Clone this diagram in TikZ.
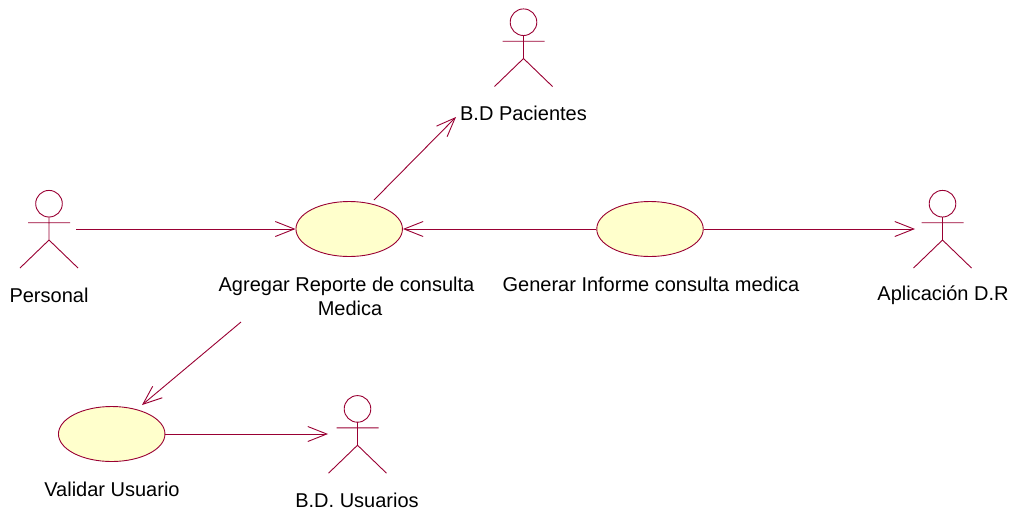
\documentclass[tikz,border=0pt]{standalone}
\usepackage{fontspec}
\setmainfont{Liberation Sans}
\usetikzlibrary{arrows.meta,shapes.geometric}
\definecolor{umlline}{HTML}{990033}
\definecolor{umlfill}{HTML}{FFFFCC}
\tikzset{
  umlcase/.style={draw=umlline,fill=umlfill,line width=0.9pt,ellipse,minimum width=106.5pt,minimum height=55pt,inner sep=0pt},
  umllabel/.style={text=black,font=\fontsize{20pt}{24pt}\selectfont,align=center,inner sep=0pt,anchor=center},
  assoc/.style={draw=umlline,line width=0.9pt,-{Straight Barb[length=19pt,width=15pt,line width=0.9pt]},shorten >=0pt},
  actorline/.style={draw=umlline,line width=0.9pt},
  pics/umlactor/.style={code={
    \draw[actorline] (0,13.2) circle[radius=13.3pt];
    \draw[actorline] (0,26.5) -- (0,49.5) (-21,32.2) -- (21,32.2) (-29,77.5) -- (0,49.5) -- (29,77.5);
  }}
}
\begin{document}
\begin{tikzpicture}[x=1pt,y=-1pt]
\useasboundingbox (0,0) rectangle (1016,512);
\pic at (49,190.5) {umlactor};
\pic at (523.5,9) {umlactor};
\pic at (942.5,190.5) {umlactor};
\pic at (357.5,395.7) {umlactor};
\node[umlcase] (agregar) at (349.2,229) {};
\node[umlcase] (generar) at (650,229) {};
\node[umlcase] (validar) at (111.7,434) {};
\node[umllabel] (lblPersonal) at (49,295) {Personal};
\node[umllabel] (lblPacientes) at (523.5,113) {B.D Pacientes};
\node[umllabel] (lblAplicacion) at (943,295) {Aplicación D.R};
\node[umllabel] (lblAgregar) at (346.5,296) {Agregar Reporte de consulta\\\hspace*{7pt}Medica};
\node[umllabel] (lblGenerar) at (651,284) {Generar Informe consulta medica};
\node[umllabel] (lblValidar) at (112,489) {Validar Usuario};
\node[umllabel] (lblUsuarios) at (357,500) {B.D. Usuarios};
\coordinate (personalEnd) at (76,229);
\coordinate (pacientesEnd) at (456,117);
\coordinate (agregarTop) at (374,200);
\coordinate (agregarBottom) at (241,322);
\coordinate (validarEnd) at (142,405);
\coordinate (aplicacionEnd) at (915,229);
\coordinate (usuariosEnd) at (328,434);
\draw[assoc] (personalEnd) -- (agregar.west);
\draw[assoc] (agregarTop) -- (pacientesEnd);
\draw[assoc] (generar.west) -- (agregar.east);
\draw[assoc] (generar.east) -- (aplicacionEnd);
\draw[assoc] (agregarBottom) -- (validarEnd);
\draw[assoc] (validar.east) -- (usuariosEnd);
\end{tikzpicture}
\end{document}
